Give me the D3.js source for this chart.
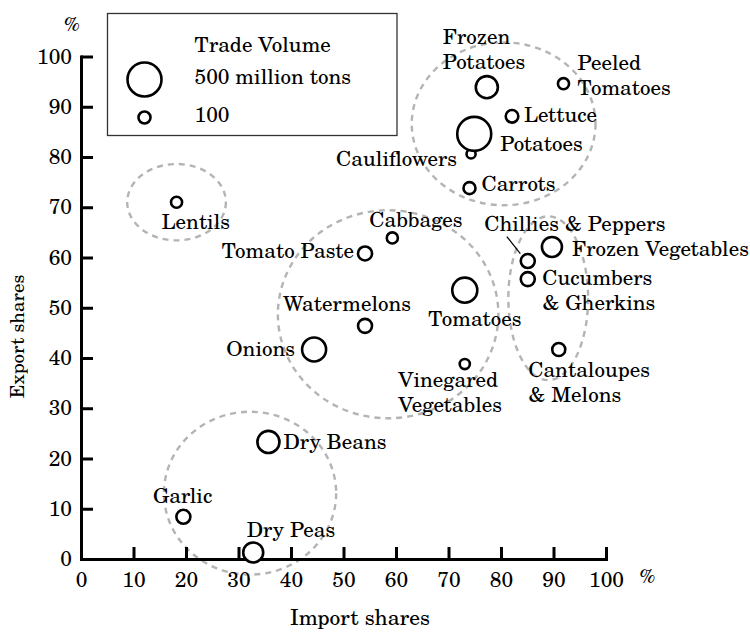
<!DOCTYPE html>
<html>
<head>
<meta charset="utf-8">
<script src="https://cdn.jsdelivr.net/npm/d3@7"></script>
<style>
  html, body { margin: 0; padding: 0; background: #fff; }
  svg { display: block; }
</style>
</head>
<body>
<svg id="chart" width="750" height="632"></svg>
<script>
// ---------------- data ----------------
const categories = [
  "Frozen Potatoes", "Peeled Tomatoes", "Lettuce", "Cauliflowers", "Potatoes", "Carrots",
  "Lentils", "Cabbages", "Tomato Paste", "Chillies & Peppers", "Frozen Vegetables",
  "Cucumbers & Gherkins", "Tomatoes", "Watermelons", "Onions", "Vinegared Vegetables",
  "Cantaloupes & Melons", "Dry Beans", "Garlic", "Dry Peas"
];
const importShares = [77.3, 91.9, 82.1, 74.3, 74.9, 74.0, 18.2, 59.3, 54.1, 85.1, 89.7,
  85.1, 73.1, 54.1, 44.4, 73.1, 91.0, 35.7, 19.5, 32.8];
const exportShares = [93.9, 94.6, 88.1, 80.6, 84.6, 73.8, 71.0, 63.9, 60.8, 59.3, 62.1,
  55.7, 53.5, 46.4, 41.7, 38.8, 41.7, 23.3, 8.4, 1.3];
const tradeVolumes = [245, 90, 107, 70, 500, 100, 90, 90, 124, 124, 210,
  124, 300, 124, 280, 80, 112, 245, 124, 210];

// cluster outlines (import %, export %, half-width %, half-height %)
const clusterCx = [80.5, 18.2, 58.5, 89.0, 32.2];
const clusterCy = [86.6, 71.0, 48.7, 51.9, 13.1];
const clusterRx = [17.5, 9.4, 21.0, 7.6, 16.4];
const clusterRy = [16.2, 7.6, 20.7, 16.3, 16.2];

const xTicks = [0, 10, 20, 30, 40, 50, 60, 70, 80, 90, 100];
const yTicks = [0, 10, 20, 30, 40, 50, 60, 70, 80, 90, 100];
const legendValues = [500, 100];
const legendLabels = ["500 million tons", "100"];
const legendTitle = "Trade Volume";
const xTitle = "Import shares";
const yTitle = "Export shares";
const unitLabel = "%";

// ---------------- layout (label placement, px offsets from point) ----------------
const labelLayout = {
  "Frozen Potatoes":      {anchor: "start",  dx: -44,  dy: -43.5, wrap: true},
  "Peeled Tomatoes":      {anchor: "start",  dx: 14,   dy: -13.5, wrap: true},
  "Lettuce":              {anchor: "start",  dx: 12,   dy: 6},
  "Cauliflowers":         {anchor: "end",    dx: -14,  dy: 12},
  "Potatoes":             {anchor: "start",  dx: 26,   dy: 17},
  "Carrots":              {anchor: "start",  dx: 12,   dy: 3},
  "Lentils":              {anchor: "start",  dx: -15,  dy: 27},
  "Cabbages":             {anchor: "start",  dx: -23,  dy: -11},
  "Tomato Paste":         {anchor: "end",    dx: -11,  dy: 5},
  "Chillies & Peppers":   {anchor: "start",  dx: -43.5,dy: -30.5, leader: [-21, -24.5, -7.5, -7.5]},
  "Frozen Vegetables":    {anchor: "start",  dx: 20,   dy: 9},
  "Cucumbers & Gherkins": {anchor: "start",  dx: 14.5, dy: 6, wrap: true},
  "Tomatoes":             {anchor: "start",  dx: -36.5,dy: 36},
  "Watermelons":          {anchor: "start",  dx: -82,  dy: -15},
  "Onions":               {anchor: "end",    dx: -19,  dy: 7},
  "Vinegared Vegetables": {anchor: "start",  dx: -66.5,dy: 23, wrap: true},
  "Cantaloupes & Melons": {anchor: "start",  dx: -30.5,dy: 28, wrap: true},
  "Dry Beans":            {anchor: "start",  dx: 15,   dy: 7.5},
  "Garlic":               {anchor: "start",  dx: -30.5,dy: -13.5},
  "Dry Peas":             {anchor: "start",  dx: -6.5, dy: -15.5}
};
const lineHeight = 25;
const FONT = '"TeX Gyre Schola", "DejaVu Serif", "Liberation Serif", serif';

// ---------------- drawing ----------------
const svg = d3.select("#chart");
const x = d3.scaleLinear().domain([0, 100]).range([81, 606]);
const y = d3.scaleLinear().domain([0, 100]).range([559, 56.5]);
const r = d3.scaleSqrt().domain([100, 500]).range([6, 17]);

const points = categories.map((c, i) => ({
  name: c, imp: importShares[i], exp: exportShares[i], vol: tradeVolumes[i]
}));

// clusters
const clusters = clusterCx.map((cx, i) => ({cx, cy: clusterCy[i], rx: clusterRx[i], ry: clusterRy[i]}));
svg.append("g").selectAll("ellipse").data(clusters).join("ellipse")
  .attr("cx", d => x(d.cx))
  .attr("cy", d => y(d.cy))
  .attr("rx", d => x(d.rx) - x(0))
  .attr("ry", d => y(0) - y(d.ry))
  .attr("fill", "none")
  .attr("stroke", "#b4b4b4")
  .attr("stroke-width", 2.4)
  .attr("stroke-dasharray", "6,5");

// axes
const fontSize = 21;
const xAxis = d3.axisBottom(x).tickValues(xTicks).tickSize(-12).tickSizeOuter(0).tickPadding(13);
const yAxis = d3.axisLeft(y).tickValues(yTicks).tickSize(-12).tickSizeOuter(0).tickPadding(9);

const gx = svg.append("g").attr("transform", `translate(0,${y(0)})`).call(xAxis);
const gy = svg.append("g").attr("transform", `translate(${x(0)},0)`).call(yAxis);
[gx, gy].forEach(g => {
  g.attr("font-family", null).attr("font-size", null);
  g.select(".domain").attr("stroke", "#000").attr("stroke-width", 3).attr("stroke-linecap", "square");
  g.selectAll(".tick line").attr("stroke", "#000").attr("stroke-width", 3);
  g.selectAll(".tick text").style("font-family", FONT).style("font-size", fontSize + "px").attr("fill", "#000");
});
gx.selectAll(".tick text").attr("dy", "0.71em");

function addText(sel) {
  return sel.append("text").style("font-family", FONT).style("font-size", fontSize + "px").attr("fill", "#000");
}

// unit labels
addText(svg).attr("x", 72).attr("y", 31).attr("text-anchor", "middle")
  .style("font-size", "19px").text(unitLabel);
addText(svg).attr("x", 647.5).attr("y", 583).attr("text-anchor", "middle")
  .style("font-size", "19px").text(unitLabel);

// axis titles
addText(svg).attr("x", 360).attr("y", 625)
  .attr("text-anchor", "middle").style("font-size", "21.5px").text(xTitle);
addText(svg).attr("transform", "translate(24,336.5) rotate(-90)")
  .attr("text-anchor", "middle").style("font-size", "19px").text(yTitle);

// bubbles
svg.append("g").selectAll("circle").data(points).join("circle")
  .attr("cx", d => x(d.imp))
  .attr("cy", d => y(d.exp))
  .attr("r", d => r(d.vol))
  .attr("fill", "#fff")
  .attr("stroke", "#000")
  .attr("stroke-width", 2.6);

// leader lines
points.forEach(d => {
  const L = labelLayout[d.name];
  if (L && L.leader) {
    svg.append("line")
      .attr("x1", x(d.imp) + L.leader[0]).attr("y1", y(d.exp) + L.leader[1])
      .attr("x2", x(d.imp) + L.leader[2]).attr("y2", y(d.exp) + L.leader[3])
      .attr("stroke", "#000").attr("stroke-width", 1.2);
  }
});

// labels
const lg = svg.append("g");
points.forEach(d => {
  const L = labelLayout[d.name];
  let lines = [d.name];
  if (L.wrap) {
    const k = d.name.indexOf(" ");
    lines = [d.name.slice(0, k), d.name.slice(k + 1)];
  }
  const t = addText(lg).attr("text-anchor", L.anchor);
  lines.forEach((ln, j) => {
    t.append("tspan")
      .attr("x", x(d.imp) + L.dx)
      .attr("y", y(d.exp) + L.dy + j * lineHeight)
      .text(ln);
  });
});

// legend
const legend = svg.append("g");
legend.append("rect").attr("x", 107.5).attr("y", 13.5).attr("width", 289.5).attr("height", 122)
  .attr("fill", "#fff").attr("stroke", "#333").attr("stroke-width", 1.3);
addText(legend).attr("x", 194.5).attr("y", 51.5).text(legendTitle);
const legendY = [79.5, 117.5];
legendValues.forEach((v, i) => {
  legend.append("circle").attr("cx", 144.5).attr("cy", legendY[i]).attr("r", r(v))
    .attr("fill", "#fff").attr("stroke", "#000").attr("stroke-width", 2.6);
  addText(legend).attr("x", 194.5).attr("y", legendY[i] + 4.5).text(legendLabels[i]);
});
</script>
</body>
</html>
